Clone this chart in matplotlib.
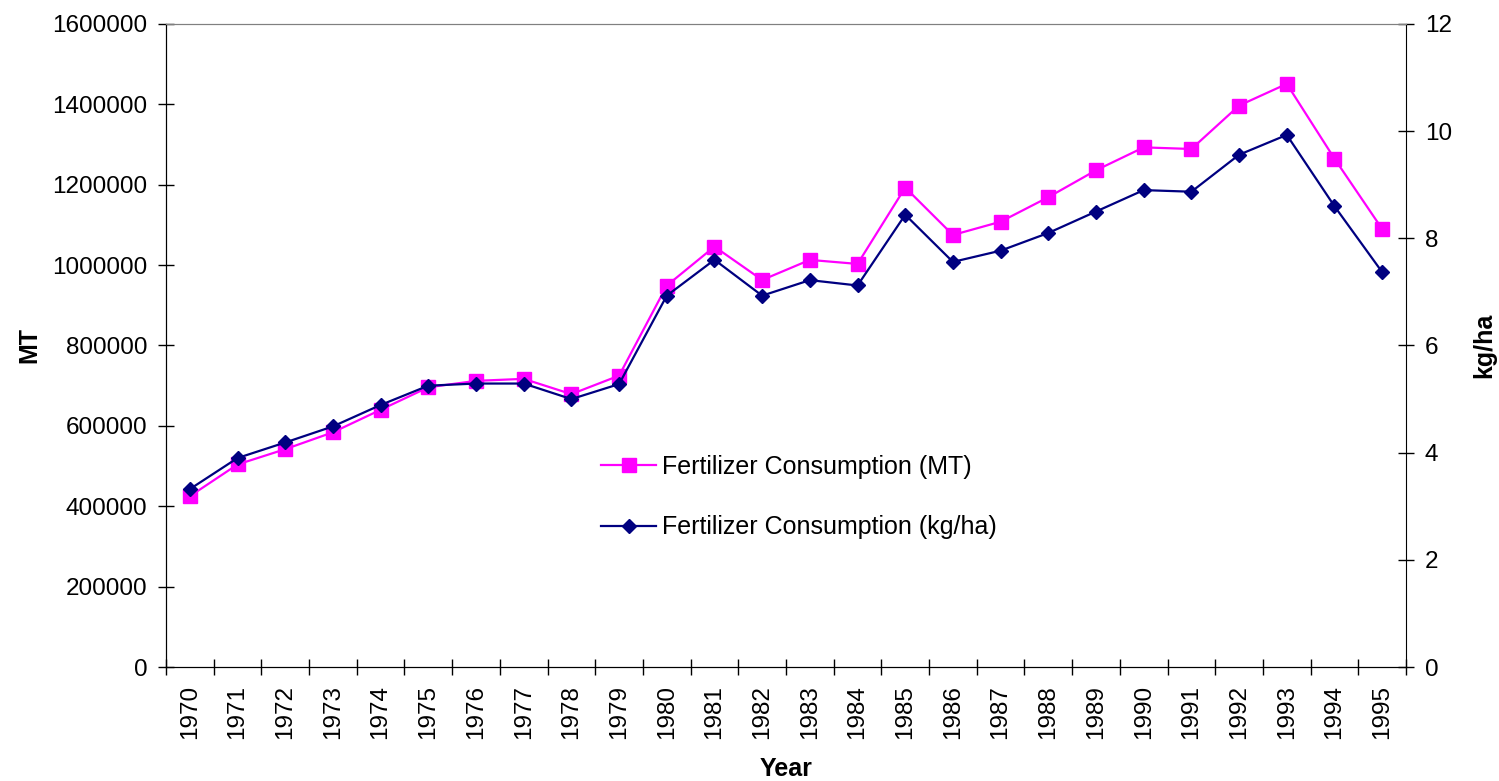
import numpy as np
import matplotlib.pyplot as plt

plt.rcParams['font.family'] = ['Liberation Sans', 'DejaVu Sans']

# Données
annees = [str(a) for a in range(1970, 1996)]
conso_mt = [425000, 504000, 542000, 584000, 640000, 696000, 712000, 717000,
            679000, 725000, 949000, 1046000, 963000, 1013000, 1003000, 1193000,
            1075000, 1108000, 1169000, 1236000, 1293000, 1289000, 1397000,
            1451000, 1265000, 1090000]
conso_kgha = [3.32, 3.90, 4.19, 4.49, 4.89, 5.25, 5.29, 5.29, 5.00, 5.28,
              6.93, 7.60, 6.93, 7.22, 7.12, 8.44, 7.56, 7.77, 8.10, 8.50,
              8.90, 8.87, 9.56, 9.93, 8.60, 7.37]

x = np.arange(len(annees))
fs = 17.5

fig = plt.figure(figsize=(14.99, 7.81), dpi=100)
ax = fig.add_axes([166/1499, 1-667/781, (1406-166)/1499, (667-24)/781])
ax2 = ax.twinx()

l1, = ax.plot(x, conso_mt, color='#FF00FF', lw=1.6, marker='s', ms=9.5,
              label='Fertilizer Consumption (MT)')
l2, = ax2.plot(x, conso_kgha, color='#000080', lw=1.6, marker='D', ms=7,
               label='Fertilizer Consumption (kg/ha)')

# Axes
ax.set_xlim(-0.5, len(annees) - 0.5)
ax.set_ylim(0, 1600000)
ax.set_yticks(np.arange(0, 1600001, 200000))
ax.set_yticklabels([str(v) for v in range(0, 1600001, 200000)])
ax2.set_ylim(0, 12)
ax2.set_yticks(np.arange(0, 13, 2))

ax.set_xticks(x)
ax.set_xticklabels(annees, rotation=90)
ax.set_xticks(np.arange(-0.5, len(annees)), minor=True)
ax.tick_params(axis='x', which='major', length=0, pad=13, labelsize=fs)
ax.tick_params(axis='x', which='minor', direction='inout', length=11, width=1)
ax.tick_params(axis='y', direction='inout', length=11, width=1, pad=8, labelsize=fs)
ax2.tick_params(axis='y', direction='inout', length=11, width=1, pad=8, labelsize=fs)

for a in (ax, ax2):
    a.spines['top'].set_color('#808080')
ax.spines['right'].set_visible(False)

ax.set_ylabel('MT', fontsize=18, fontweight='bold', labelpad=8)
ax2.set_ylabel('kg/ha', fontsize=18, fontweight='bold', labelpad=15)
ax.set_xlabel('Year', fontsize=18, fontweight='bold', labelpad=13)

fig.legend(handles=[l1, l2], loc='upper left',
           bbox_to_anchor=(601/1499, 1-455/781), frameon=False,
           fontsize=18, handlelength=2.2, handletextpad=0.25,
           labelspacing=1.45, borderpad=0, borderaxespad=0)

fig.savefig('out.png', dpi=100)
